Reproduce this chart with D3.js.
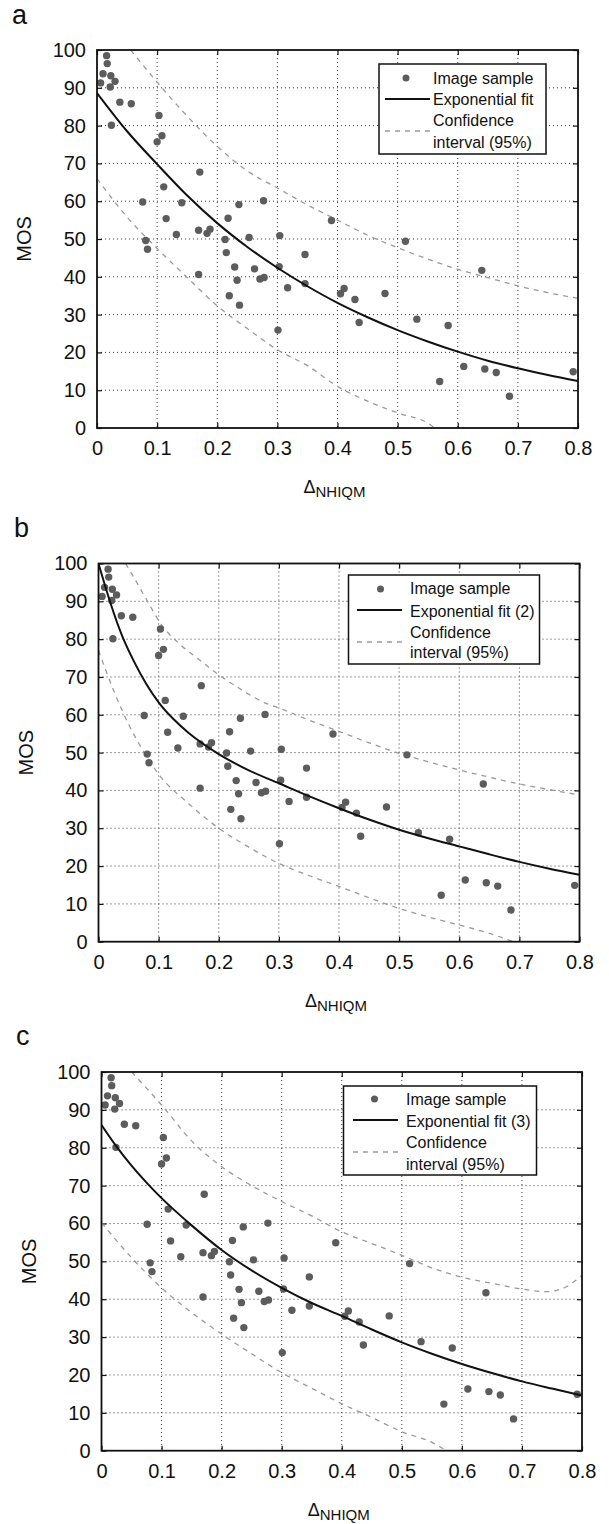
<!DOCTYPE html>
<html>
<head>
<meta charset="utf-8">
<script src="https://cdn.jsdelivr.net/npm/d3@7"></script>
<style>
  html, body { margin: 0; padding: 0; background: #fff; }
  svg { display: block; font-family: Arial, "Liberation Sans", Helvetica, sans-serif; }
</style>
</head>
<body>
<svg id="chart" width="609" height="1524"></svg>
<script>
// ---------------- DATA ----------------
const sampleX = [0.006,0.010,0.016,0.017,0.023,0.022,0.030,0.024,0.038,0.057,
  0.103,0.100,0.108,0.171,0.111,0.076,0.081,0.084,0.115,0.132,
  0.141,0.169,0.169,0.183,0.188,0.213,0.215,0.218,0.220,0.229,
  0.233,0.236,0.237,0.253,0.262,0.271,0.277,0.278,0.301,0.304,
  0.303,0.317,0.346,0.346,0.390,0.405,0.411,0.429,0.436,0.479,
  0.513,0.532,0.570,0.584,0.610,0.640,0.645,0.664,0.686,0.792];
const sampleMOS = [91.3,93.7,98.5,96.4,93.2,90.2,91.7,80.1,86.2,85.8,
  82.7,75.7,77.3,67.7,63.8,59.8,49.6,47.3,55.4,51.2,
  59.6,52.3,40.6,51.5,52.6,49.9,46.4,55.5,35.0,42.6,
  39.1,59.1,32.5,50.4,42.1,39.4,60.1,39.8,25.9,50.9,
  42.7,37.1,45.9,38.2,54.9,35.5,36.9,34.0,27.9,35.6,
  49.4,28.8,12.3,27.1,16.3,41.7,15.6,14.7,8.4,14.9];

// Panel a curves
const fitA = [[0,88.6],[0.05,78.5],[0.1,69.8],[0.15,61.5],[0.2,54.2],[0.25,47.9],[0.3,42.4],[0.35,37.5],[0.4,33.1],[0.45,29.3],[0.5,25.9],[0.55,22.9],[0.6,20.2],[0.65,17.8],[0.7,15.8],[0.75,14],[0.8,12.4]];
const upperA = [[0.056,100],[0.1,91.5],[0.15,82.5],[0.2,74.5],[0.25,68],[0.3,63.5],[0.35,59],[0.4,55],[0.45,51],[0.5,47.7],[0.55,44.7],[0.6,42],[0.65,39.8],[0.7,37.6],[0.75,35.8],[0.8,34.3]];
const lowerA = [[0,66],[0.05,55.8],[0.1,47.5],[0.15,39.8],[0.2,32.3],[0.25,26.3],[0.3,20.7],[0.35,16.5],[0.4,11],[0.45,7.1],[0.5,4],[0.55,1.3],[0.562,0]];

// Panel b curves
const fitB = [[0,100],[0.02,89.5],[0.04,80.6],[0.06,73.8],[0.08,68],[0.1,63.3],[0.125,58.8],[0.15,55.2],[0.175,52.2],[0.2,49.6],[0.25,45.3],[0.3,41.9],[0.35,38.5],[0.4,35.3],[0.45,32.3],[0.5,29.6],[0.55,27.3],[0.6,25.2],[0.65,23.1],[0.7,21.1],[0.75,19.3],[0.8,17.7]];
const upperB = [[0.045,100],[0.06,96],[0.079,90.7],[0.104,84],[0.137,78.4],[0.165,74.9],[0.198,70.8],[0.232,67.2],[0.282,62.8],[0.3,61.8],[0.35,58.6],[0.4,55.6],[0.45,52.6],[0.5,49.8],[0.55,47.5],[0.6,45.4],[0.65,43.5],[0.7,41.7],[0.75,40.2],[0.8,38.8]];
const lowerB = [[0,77],[0.025,66.5],[0.05,57.5],[0.075,50.3],[0.1,44.3],[0.15,36.5],[0.2,30],[0.25,25],[0.3,20.7],[0.35,17.5],[0.4,14.6],[0.45,11.6],[0.5,8.8],[0.55,6.5],[0.6,4.4],[0.65,2.2],[0.69,0]];

// Panel c curves
const fitC = [[0,86],[0.025,80.3],[0.05,75.3],[0.075,70.8],[0.1,66.7],[0.125,63],[0.15,59.5],[0.2,53],[0.25,47.6],[0.3,43],[0.35,39],[0.4,35.6],[0.45,32],[0.5,28.6],[0.55,25.6],[0.6,22.9],[0.65,20.5],[0.7,18.3],[0.75,16.4],[0.8,14.6]];
const upperC = [[0.05,100],[0.1,91.3],[0.15,81.8],[0.2,75],[0.25,70],[0.3,65.8],[0.35,62],[0.4,57.8],[0.45,54.7],[0.5,51.6],[0.55,48.3],[0.6,45.8],[0.65,44.2],[0.7,42.7],[0.74,42],[0.77,43],[0.8,46.3]];
const lowerC = [[0,60.2],[0.05,51],[0.1,43],[0.15,36.5],[0.2,30.8],[0.25,25.6],[0.3,20.6],[0.35,16.5],[0.4,12.4],[0.45,8.8],[0.5,5],[0.55,2.2],[0.575,0]];

const xTicks = [0,0.1,0.2,0.3,0.4,0.5,0.6,0.7,0.8];
const yTicks = [0,10,20,30,40,50,60,70,80,90,100];
const panelLetters = ["a","b","c"];
const legendLabels = [
  ["Image sample","Exponential fit","Confidence","interval (95%)"],
  ["Image sample","Exponential fit (2)","Confidence","interval (95%)"],
  ["Image sample","Exponential fit (3)","Confidence","interval (95%)"]
];
const xLabelMain = "Δ";
const xLabelSub = "NHIQM";
const yLabel = "MOS";

// ---------------- LAYOUT ----------------
const panels = [
  {letter: panelLetters[0], lx: 12, ly: 24, left: 97, right: 578, top: 50, bottom: 428,
   fit: fitA, upper: upperA, lower: lowerA, labels: legendLabels[0],
   lg: {x: 379, y: 64, w: 167, h: 90, dotX: 27, dotY: 14, l0: 6, l1: 51, lineY: 35, dashY: 67, tx: 54, tb: [20, 41, 62, 84]}},
  {letter: panelLetters[1], lx: 14, ly: 537, left: 98.5, right: 579.5, top: 563.5, bottom: 941.7,
   fit: fitB, upper: upperB, lower: lowerB, labels: legendLabels[1],
   lg: {x: 348.5, y: 575, w: 191, h: 89, dotX: 32, dotY: 14, l0: 8.5, l1: 53.5, lineY: 35, dashY: 67, tx: 61.5, tb: [19, 42, 63, 83]}},
  {letter: panelLetters[2], lx: 16, ly: 1045, left: 101.5, right: 582, top: 1072, bottom: 1450.7,
   fit: fitC, upper: upperC, lower: lowerC, labels: legendLabels[2],
   lg: {x: 343.5, y: 1086, w: 193, h: 89, dotX: 31, dotY: 13, l0: 9.5, l1: 54.5, lineY: 34, dashY: 66, tx: 62.5, tb: [19, 41, 62, 84]}}
];

const svg = d3.select("#chart");
svg.append("rect").attr("width", 609).attr("height", 1524).attr("fill", "#fff");

const dotColor = "#5c5c5c";
const ciColor = "#9a9a9a";

panels.forEach((p, i) => {
  const x = d3.scaleLinear().domain([0, 0.8]).range([p.left, p.right]);
  const y = d3.scaleLinear().domain([0, 100]).range([p.bottom, p.top]);
  const g = svg.append("g");

  g.append("text").attr("x", p.lx).attr("y", p.ly)
    .attr("font-size", 27).attr("fill", "#111").text(p.letter);

  const grid = g.append("g").attr("stroke", "#3a3a3a").attr("stroke-width", 1)
    .attr("stroke-dasharray", "1,3");
  xTicks.slice(1, -1).forEach(t => {
    grid.append("line").attr("x1", x(t)).attr("x2", x(t)).attr("y1", p.top).attr("y2", p.bottom);
  });
  yTicks.slice(1, -1).forEach(t => {
    grid.append("line").attr("x1", p.left).attr("x2", p.right).attr("y1", y(t)).attr("y2", y(t));
  });

  const axB = d3.axisBottom(x).tickValues(xTicks).tickSize(-5).tickPadding(13)
    .tickFormat(d => d === 0 ? "0" : d3.format(".1f")(d));
  const axT = d3.axisTop(x).tickValues(xTicks).tickSize(-5).tickFormat("");
  const axL = d3.axisLeft(y).tickValues(yTicks).tickSize(-5).tickPadding(11);
  const axR = d3.axisRight(y).tickValues(yTicks).tickSize(-5).tickFormat("");

  const gb = g.append("g").attr("transform", `translate(0,${p.bottom})`).call(axB);
  const gt = g.append("g").attr("transform", `translate(0,${p.top})`).call(axT);
  const gl = g.append("g").attr("transform", `translate(${p.left},0)`).call(axL);
  const gr = g.append("g").attr("transform", `translate(${p.right},0)`).call(axR);
  [gb, gt, gl, gr].forEach(a => {
    a.select(".domain").remove();
    a.selectAll(".tick line").attr("stroke", "#111").attr("stroke-width", 1.2);
    a.selectAll("text").attr("font-size", 20).attr("fill", "#111")
      .attr("font-family", "Arial, 'Liberation Sans', sans-serif");
  });

  const clipId = "clip" + i;
  svg.append("clipPath").attr("id", clipId).append("rect")
    .attr("x", p.left).attr("y", p.top).attr("width", p.right - p.left).attr("height", p.bottom - p.top);

  const line = d3.line().x(d => x(d[0])).y(d => y(d[1])).curve(d3.curveMonotoneX);
  const plot = g.append("g").attr("clip-path", `url(#${clipId})`);

  plot.append("path").datum(p.upper).attr("d", line).attr("fill", "none")
    .attr("stroke", ciColor).attr("stroke-width", 1.3).attr("stroke-dasharray", "5,5");
  plot.append("path").datum(p.lower).attr("d", line).attr("fill", "none")
    .attr("stroke", ciColor).attr("stroke-width", 1.3).attr("stroke-dasharray", "5,5");

  plot.selectAll("circle").data(d3.range(sampleX.length)).join("circle")
    .attr("cx", k => x(sampleX[k])).attr("cy", k => y(sampleMOS[k])).attr("r", 3.7)
    .attr("fill", dotColor);

  plot.append("path").datum(p.fit).attr("d", line).attr("fill", "none")
    .attr("stroke", "#111").attr("stroke-width", 2);

  g.append("rect").attr("x", p.left).attr("y", p.top)
    .attr("width", p.right - p.left).attr("height", p.bottom - p.top)
    .attr("fill", "none").attr("stroke", "#111").attr("stroke-width", 1.8);

  const xl = g.append("text").attr("x", (p.left + p.right) / 2 - 3).attr("y", p.bottom + 65)
    .attr("text-anchor", "middle").attr("fill", "#111");
  xl.append("tspan").attr("font-size", 18).text(xLabelMain);
  xl.append("tspan").attr("font-size", 15).attr("dy", 4).text(xLabelSub);

  g.append("text")
    .attr("transform", `translate(${p.left - 66},${(p.top + p.bottom) / 2}) rotate(-90)`)
    .attr("text-anchor", "middle").attr("font-size", 20).attr("fill", "#111").text(yLabel);

  const L = p.lg;
  const lg = g.append("g").attr("transform", `translate(${L.x},${L.y})`);
  lg.append("rect").attr("width", L.w).attr("height", L.h).attr("fill", "#fff")
    .attr("stroke", "#111").attr("stroke-width", 1.5);
  lg.append("circle").attr("cx", L.dotX).attr("cy", L.dotY).attr("r", 3.5).attr("fill", dotColor);
  lg.append("line").attr("x1", L.l0).attr("x2", L.l1).attr("y1", L.lineY).attr("y2", L.lineY)
    .attr("stroke", "#111").attr("stroke-width", 2);
  lg.append("line").attr("x1", L.l0).attr("x2", L.l1).attr("y1", L.dashY).attr("y2", L.dashY)
    .attr("stroke", ciColor).attr("stroke-width", 1.3).attr("stroke-dasharray", "5,5");
  p.labels.forEach((t, j) => {
    lg.append("text").attr("x", L.tx).attr("y", L.tb[j]).attr("font-size", 16)
      .attr("fill", "#111").text(t);
  });
});
</script>
</body>
</html>
